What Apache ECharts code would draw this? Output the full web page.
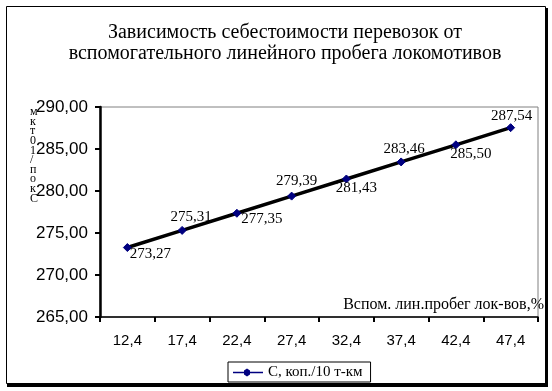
<!DOCTYPE html>
<html><head><meta charset="utf-8">
<script src="https://cdn.jsdelivr.net/npm/echarts@6/dist/echarts.min.js"></script>
<style>html,body{margin:0;padding:0;background:#fff}#c{width:552px;height:391px}</style>
</head><body><div id="c"></div>
<script>
var categories = ['12,4','17,4','22,4','27,4','32,4','37,4','42,4','47,4'];
var costValues = [273.27, 275.31, 277.35, 279.39, 281.43, 283.46, 285.50, 287.54];
var seriesName = 'С, коп./10 т-км';
var titleLines = ['Зависимость себестоимости перевозок от', 'вспомогательного линейного пробега локомотивов'];
var xAxisName = 'Вспом. лин.пробег лок-вов,%';
var yAxisNameChars = ['м','к','т','0','1','/','п','о','к','С'];
// label placement styling (pixel offsets from marker)
var labelOffsets = [[23,7],[9,-13],[25,6],[5,-15],[10,9],[3,-13],[15,9],[1,-12]];

function fmt(v){ return v.toFixed(2).replace('.', ','); }

var chart = echarts.init(document.getElementById('c'), null, {renderer:'canvas'});
var serif = '"Liberation Serif","Times New Roman",serif';
var sans = '"Liberation Sans",Arial,sans-serif';

chart.setOption({
  animation:false,
  backgroundColor:'#fff',
  title:{
    text: titleLines.join('\n'),
    left: 280, top: 17, textAlign:'center',
    textStyle:{fontFamily:serif, fontSize:20, fontWeight:'normal', color:'#000', lineHeight:21}
  },
  grid:{left:100, top:107, width:438, height:210, show:true, borderColor:'#808080', borderWidth:1, backgroundColor:'transparent'},
  legend:{
    left:228, top:362, itemWidth:30, itemHeight:8, itemGap:4,
    padding:[3,8,2,5], borderColor:'#000', borderWidth:1,
    textStyle:{fontFamily:serif, fontSize:15, color:'#000'},
    data:[{name:seriesName, icon:'path://M0,3.3L11,3.3L11,2L14,0L17,2L17,3.3L30,3.3L30,4.7L17,4.7L17,6L14,8L11,6L11,4.7L0,4.7Z'}]
  },
  xAxis:{
    type:'category', data:categories, boundaryGap:true,
    axisLine:{lineStyle:{color:'#000', width:1.5}},
    axisTick:{show:true, alignWithLabel:false, length:5, lineStyle:{color:'#000', width:2}},
    axisLabel:{fontFamily:sans, fontSize:15, color:'#000', margin:16},
    splitLine:{show:false}
  },
  yAxis:{
    type:'value', min:265, max:290, interval:5,
    axisLine:{show:true, lineStyle:{color:'#000', width:2.5}},
    axisTick:{show:true, length:5, lineStyle:{color:'#000', width:2}},
    axisLabel:{fontFamily:sans, fontSize:17, color:'#000', margin:12, formatter:function(v){return fmt(v);}},
    splitLine:{show:false}
  },
  graphic:[
    {type:'rect', shape:{x:6.5, y:6.5, width:539, height:377}, style:{fill:'none', stroke:'#000', lineWidth:1}, silent:true, z:-1},
    {type:'rect', shape:{x:7, y:384, width:541, height:3}, style:{fill:'#000'}, silent:true},
    {type:'rect', shape:{x:545, y:8, width:3, height:379}, style:{fill:'#000'}, silent:true},
    {type:'text', left:30, top:106, style:{text:yAxisNameChars.join('\n'), fontFamily:serif, fontSize:12, lineHeight:9.6, fill:'#000', align:'center'}, z:10},
    {type:'text', right:8, top:297, style:{text:xAxisName, fontFamily:serif, fontSize:16, fill:'#000'}, z:10}
  ],
  series:[{
    name:seriesName, type:'line',
    data: costValues.map(function(v,i){
      return {value:v, label:{offset:labelOffsets[i]}};
    }),
    lineStyle:{color:'#000', width:3.5},
    itemStyle:{color:'#000080', borderColor:'#000080'},
    symbol:'diamond', symbolSize:8, z:3,
    label:{show:true, position:'inside', align:'center', verticalAlign:'middle',
      fontFamily:serif, fontSize:15, color:'#000',
      formatter:function(p){return fmt(p.value);}}
  }]
});
</script></body></html>
